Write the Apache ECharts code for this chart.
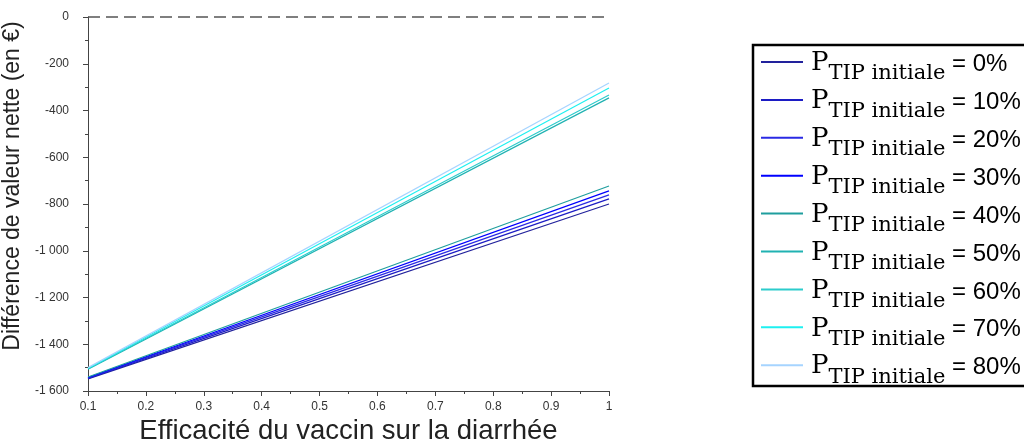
<!DOCTYPE html>
<html>
<head>
<meta charset="utf-8">
<script src="https://cdn.jsdelivr.net/npm/echarts@6/dist/echarts.min.js"></script>
<style>
html,body{margin:0;padding:0;background:#fff;}
#chart{width:1024px;height:443px;}
</style>
</head>
<body>
<div id="chart"></div>
<script>
// Efficacité du vaccin (x) at the two ends of each straight line
var efficacite = [0.1, 1];
// Difference de valeur nette (en €) for each P_TIP initiale
var legendNames = ['0%', '10%', '20%', '30%', '40%', '50%', '60%', '70%', '80%'];
var p0  = [-1548, -800];
var p10 = [-1546, -778];
var p20 = [-1544, -761];
var p30 = [-1542, -744];
var p40 = [-1540, -723];
var p50 = [-1507, -346];
var p60 = [-1505, -334];
var p70 = [-1503, -304];
var p80 = [-1500, -282];
var seriesValues = [p0, p10, p20, p30, p40, p50, p60, p70, p80];
var colors = ['#22229c', '#1c1cc4', '#2a2ae4', '#0000ff', '#1f9e9e', '#20b2b2', '#2ccccc', '#1ef0f0', '#a6d4ff'];
var xTicks = [0.1, 0.2, 0.3, 0.4, 0.5, 0.6, 0.7, 0.8, 0.9, 1];
var yMin = -1600, yMax = 0, yStep = 200;

var chart = echarts.init(document.getElementById('chart'), null, {renderer: 'canvas'});

var series = legendNames.map(function (name, i) {
  var s = {
    name: name,
    type: 'line',
    symbol: 'none',
    data: efficacite.map(function (x, j) { return [x, seriesValues[i][j]]; }),
    lineStyle: {width: 1.2, color: colors[i]},
    itemStyle: {color: colors[i]},
    z: 3
  };
  if (i === 0) {
    s.markLine = {
      silent: true,
      symbol: 'none',
      label: {show: false},
      lineStyle: {type: [12, 6], color: '#555', width: 1.5},
      data: [{yAxis: 0}],
      z: 2
    };
  }
  return s;
});

function fmtThousands(v) {
  var s = Math.abs(v).toString().replace(/\B(?=(\d{3})+(?!\d))/g, ' ');
  return (v < 0 ? '-' : '') + s;
}

var option = {
  animation: false,
  backgroundColor: '#fff',
  grid: {left: 88, right: 415, top: 17, bottom: 52, containLabel: false, outerBoundsMode: 'none'},
  xAxis: {
    type: 'value',
    min: xTicks[0],
    max: xTicks[xTicks.length - 1],
    interval: 0.1,
    name: 'Efficacité du vaccin sur la diarrhée',
    nameLocation: 'middle',
    nameGap: 24,
    nameTextStyle: {fontFamily: 'Liberation Sans', fontSize: 27.5, color: '#222'},
    axisLine: {show: true, onZero: false, lineStyle: {color: '#444', width: 1}},
    axisTick: {show: true, inside: false, length: 5, lineStyle: {color: '#444'}},
    minorTick: {show: true, splitNumber: 2, length: 3, lineStyle: {color: '#444'}},
    splitLine: {show: false},
    axisLabel: {
      margin: 10,
      fontFamily: 'Liberation Sans',
      fontSize: 12,
      color: '#333',
      formatter: function (v) { return String(+v.toFixed(2)); }
    }
  },
  yAxis: {
    type: 'value',
    min: yMin,
    max: yMax,
    interval: yStep,
    name: 'Différence de valeur nette (en €)',
    nameLocation: 'middle',
    nameGap: 44,
    nameTextStyle: {fontFamily: 'Liberation Sans', fontSize: 23, color: '#222', padding: [0, 0, 0, 36]},
    axisLine: {show: true, onZero: false, lineStyle: {color: '#444', width: 1}},
    axisTick: {show: true, inside: false, length: 5, lineStyle: {color: '#444'}},
    minorTick: {show: true, splitNumber: 2, length: 3, lineStyle: {color: '#444'}},
    splitLine: {show: false},
    axisLabel: {
      margin: 19,
      fontFamily: 'Liberation Sans',
      fontSize: 12,
      color: '#333',
      formatter: fmtThousands
    }
  },
  legend: {
    orient: 'vertical',
    left: 752,
    top: 44,
    width: 330,
    icon: 'rect',
    itemWidth: 42,
    itemHeight: 2,
    itemGap: 3.9,
    padding: [6.5, 80, 0, 9],
    borderWidth: 0,
    selectedMode: false,
    data: legendNames,
    formatter: function (name) {
      return '{t| }{p|P}{s|TIP initiale}{e| = ' + name + '}';
    },
    textStyle: {
      color: '#000',
      rich: {
        t: {fontSize: 1, lineHeight: 45, verticalAlign: 'bottom', width: 0},
        p: {fontFamily: 'DejaVu Serif', fontSize: 26, color: '#000', verticalAlign: 'bottom', padding: [0, 0, 8, 3], lineHeight: 26},
        s: {fontFamily: 'DejaVu Serif', fontSize: 21, color: '#000', verticalAlign: 'bottom', lineHeight: 21},
        e: {fontFamily: 'Liberation Sans', fontSize: 24, color: '#000', verticalAlign: 'bottom', padding: [0, 0, 8, 0], lineHeight: 24}
      }
    }
  },
  graphic: [{
    type: 'rect',
    silent: true,
    z: 10,
    shape: {x: 753, y: 45, width: 330, height: 341},
    style: {fill: 'none', stroke: '#000', lineWidth: 2.5}
  }],
  series: series
};
chart.setOption(option);
</script>
</body>
</html>
